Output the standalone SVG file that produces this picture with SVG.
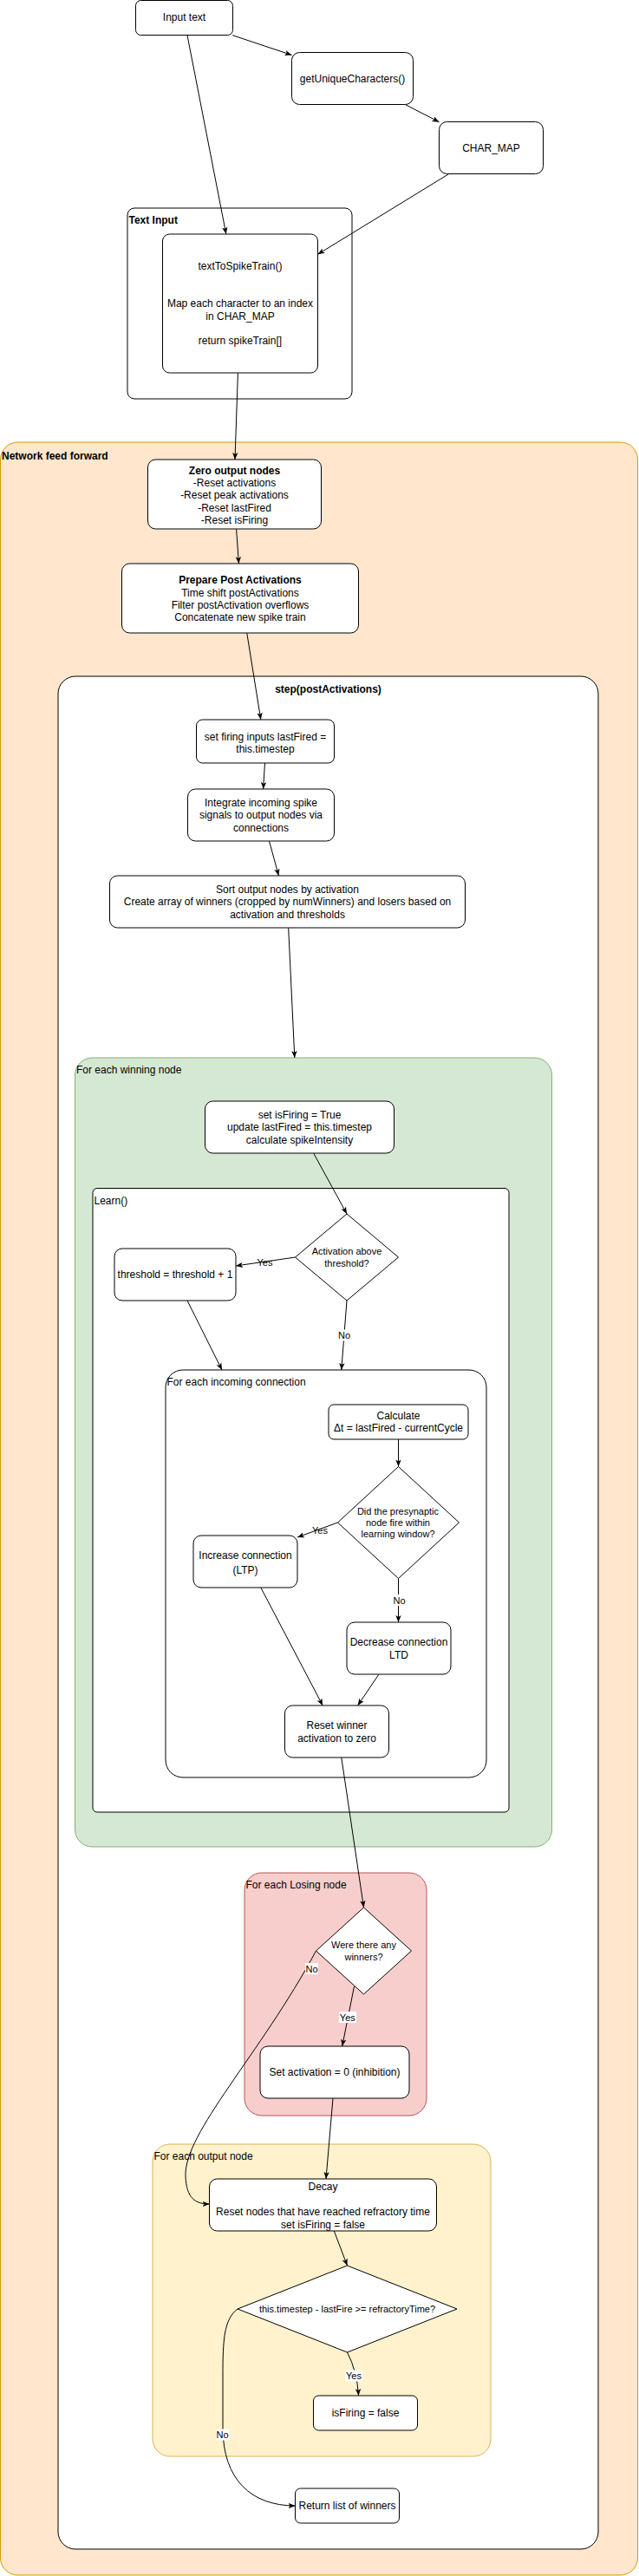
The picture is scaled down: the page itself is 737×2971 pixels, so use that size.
<svg xmlns="http://www.w3.org/2000/svg" width="737" height="2971" viewBox="0 0 737 2971">
<defs>
<marker id="arr" viewBox="0 0 10 10" refX="10" refY="5" markerWidth="8" markerHeight="8" orient="auto" markerUnits="userSpaceOnUse">
<path d="M0,1 L10,5 L0,9 L2.5,5 Z" fill="#000"/>
</marker>
<style>
.box{fill:#fff;stroke:#000;stroke-width:1}
.t{font-family:"Liberation Sans",Arial,Helvetica,sans-serif;font-size:12px;fill:#000;text-anchor:middle}
.b{font-weight:bold}
.l{text-anchor:start}
.s{font-size:11px}
.edge{fill:none;stroke:#000;stroke-width:1;marker-end:url(#arr)}
.lbg{fill:#fff}
</style>
</defs>
<rect x="0" y="0" width="737" height="2971" fill="#fff"/>

<g id="network-feed-forward">
<rect x="0.5" y="510" width="735" height="2460" rx="20" fill="#ffe6cc" stroke="#d79b00"/>
<text class="t b l" x="2" y="530">Network feed forward</text>
</g>
<g id="step">
<rect x="67" y="780" width="623" height="2160" rx="20" class="box"/>
<text class="t b" x="378.5" y="798.5">step(postActivations)</text>
</g>
<g id="for-each-winning">
<rect x="86.5" y="1220" width="550" height="910" rx="20" fill="#d5e8d4" stroke="#82b366"/>
<text class="t l" x="88" y="1237.5">For each winning node</text>
</g>
<g id="learn">
<rect x="107" y="1370.5" width="480" height="719.5" rx="5" class="box"/>
<text class="t l" x="108.5" y="1388.5">Learn()</text>
</g>
<g id="for-each-incoming">
<rect x="191" y="1580" width="370" height="470" rx="20" class="box"/>
<text class="t l" x="192.5" y="1598.2">For each incoming connection</text>
</g>
<g id="for-each-losing">
<rect x="282" y="2160" width="210" height="280" rx="20" fill="#f8cecc" stroke="#b85450"/>
<text class="t l" x="283.5" y="2178.2">For each Losing node</text>
</g>
<g id="for-each-output">
<rect x="176" y="2473" width="390" height="360" rx="20" fill="#fff2cc" stroke="#d6b656"/>
<text class="t l" x="177.5" y="2491.2">For each output node</text>
</g>
<g id="text-input">
<rect x="147" y="240" width="259" height="220" rx="8" fill="none" stroke="#000"/>
<text class="t b l" x="148.5" y="258.2">Text Input</text>
</g>

<g id="connectors">
<path class="edge" d="M268.3,40.7 L336.5,63.5"/>
<path class="edge" d="M467.6,120.7 L506.5,140.7"/>
<path class="edge" d="M216,40.7 L260.8,270"/>
<path class="edge" d="M517,201 L366.5,293.3"/>
<path class="edge" d="M274.4,430.3 L271,530"/>
<path class="edge" d="M272.6,610.3 L275.4,650"/>
<path class="edge" d="M284.8,730.3 L300.8,830"/>
<path class="edge" d="M305.5,880 L303.6,910"/>
<path class="edge" d="M310.6,970.3 L321.4,1010"/>
<path class="edge" d="M332.7,1070.3 L339.8,1220"/>
<path class="edge" d="M361.8,1330.3 L400,1400"/>
<path class="edge" d="M340.5,1450 L272,1460"/>
<text class="t s" x="305.5" y="1459.6">Yes</text>
<path class="edge" d="M216,1500 L256,1580"/>
<path class="edge" d="M400,1500 L393.8,1580"/>
<rect class="lbg" x="390" y="1533.5" width="15" height="13"/>
<text class="t s" x="397" y="1543.9">No</text>
<path class="edge" d="M459.5,1660 L459.5,1691.5"/>
<path class="edge" d="M389.5,1756 L343,1773"/>
<text class="t s" x="369" y="1768.9">Yes</text>
<path class="edge" d="M459.5,1820.5 L459.5,1871"/>
<rect class="lbg" x="453" y="1839" width="15" height="13"/>
<text class="t s" x="460.5" y="1849.6">No</text>
<path class="edge" d="M300.8,1831 L372.2,1967"/>
<path class="edge" d="M437,1931 L412.6,1967"/>
<path class="edge" d="M393.8,2027 L419.5,2200"/>
<path class="edge" d="M364.5,2250 C300,2370 212,2460 214,2510 C215,2535 225,2542 241.5,2542"/>
<rect class="lbg" x="352" y="2264" width="15" height="13"/>
<text class="t s" x="359.5" y="2274.6">No</text>
<path class="edge" d="M408.5,2291 L394.7,2360"/>
<rect class="lbg" x="391" y="2320" width="20" height="13"/>
<text class="t s" x="400.8" y="2330.6">Yes</text>
<path class="edge" d="M384,2420 L376,2513"/>
<path class="edge" d="M385.3,2573 L400.5,2613"/>
<path class="edge" d="M400.5,2713 Q412,2735 413.5,2763"/>
<rect class="lbg" x="398" y="2733.5" width="20" height="13"/>
<text class="t s" x="408" y="2743.9">Yes</text>
<path class="edge" d="M274,2663 C258,2675 257,2700 257,2740 L257,2800 C257,2860 290,2890 340.5,2890"/>
<rect class="lbg" x="249.5" y="2801.5" width="15" height="13"/>
<text class="t s" x="256.6" y="2812.2">No</text>
</g>

<g id="input-text">
<rect x="156.5" y="0.5" width="112" height="40" rx="6" class="box"/>
<text class="t" x="212.5" y="24.2">Input text</text>
</g>
<g id="get-unique-characters">
<rect x="336.5" y="60.5" width="140" height="60" rx="9" class="box"/>
<text class="t" x="406.5" y="94.7">getUniqueCharacters()</text>
</g>
<g id="char-map">
<rect x="506.5" y="140.5" width="120" height="60" rx="9" class="box"/>
<text class="t" x="566.5" y="174.7">CHAR_MAP</text>
</g>
<g id="text-to-spike-train">
<rect x="187.5" y="270" width="179" height="160" rx="8" class="box"/>
<text class="t" x="277" y="310.9">textToSpikeTrain()</text>
<text class="t" x="277" y="354.1">Map each character to an index</text>
<text class="t" x="277" y="368.5">in CHAR_MAP</text>
<text class="t" x="277" y="397.3">return spikeTrain[]</text>
</g>
<g id="zero-output-nodes">
<rect x="170.5" y="530" width="200" height="80" rx="9" class="box"/>
<text class="t b" x="270.5" y="546.5">Zero output nodes</text>
<text class="t" x="270.5" y="560.9">-Reset activations</text>
<text class="t" x="270.5" y="575.3">-Reset peak activations</text>
<text class="t" x="270.5" y="589.7">-Reset lastFired</text>
<text class="t" x="270.5" y="604.1">-Reset isFiring</text>
</g>
<g id="prepare-post-activations">
<rect x="140.5" y="650" width="273" height="80" rx="9" class="box"/>
<text class="t b" x="277" y="673.2">Prepare Post Activations</text>
<text class="t" x="277" y="687.6">Time shift postActivations</text>
<text class="t" x="277" y="702">Filter postActivation overflows</text>
<text class="t" x="277" y="716.4">Concatenate new spike train</text>
</g>
<g id="set-firing-inputs">
<rect x="226.5" y="830" width="159" height="50" rx="7" class="box"/>
<text class="t" x="306" y="853.5">set firing inputs lastFired =</text>
<text class="t" x="306" y="867.9">this.timestep</text>
</g>
<g id="integrate">
<rect x="216.5" y="910" width="169" height="60" rx="9" class="box"/>
<text class="t" x="301" y="929.9">Integrate incoming spike</text>
<text class="t" x="301" y="944.3">signals to output nodes via</text>
<text class="t" x="301" y="958.7">connections</text>
</g>
<g id="sort-output-nodes">
<rect x="126.5" y="1010" width="410" height="60" rx="9" class="box"/>
<text class="t" x="331.5" y="1029.9">Sort output nodes by activation</text>
<text class="t" x="331.5" y="1044.3">Create array of winners (cropped by numWinners) and losers based on</text>
<text class="t" x="331.5" y="1058.7">activation and thresholds</text>
</g>
<g id="set-is-firing">
<rect x="236.5" y="1270" width="218" height="60" rx="9" class="box"/>
<text class="t" x="345.5" y="1289.9">set isFiring = True</text>
<text class="t" x="345.5" y="1304.3">update lastFired = this.timestep</text>
<text class="t" x="345.5" y="1318.7">calculate spikeIntensity</text>
</g>
<g id="activation-above-threshold">
<polygon points="340.5,1450 400,1400 459.5,1450 400,1500" class="box"/>
<text class="t s" x="400" y="1447.2">Activation above</text>
<text class="t s" x="400" y="1461.2">threshold?</text>
</g>
<g id="threshold-increment">
<rect x="132" y="1440" width="140" height="60" rx="9" class="box"/>
<text class="t" x="202" y="1474.2">threshold = threshold + 1</text>
</g>
<g id="calculate-dt">
<rect x="379" y="1620" width="161" height="40" rx="6" class="box"/>
<text class="t" x="459.5" y="1636.9">Calculate</text>
<text class="t" x="459.5" y="1651.3">Δt = lastFired - currentCycle</text>
</g>
<g id="presynaptic-fire">
<polygon points="389.5,1756 459.5,1691.5 529.5,1756 459.5,1820.5" class="box"/>
<text class="t s" x="459" y="1747.2">Did the presynaptic</text>
<text class="t s" x="459" y="1760.4">node fire within</text>
<text class="t s" x="459" y="1773.4">learning window?</text>
</g>
<g id="increase-connection">
<rect x="223" y="1771" width="120" height="60" rx="9" class="box"/>
<text class="t" x="283" y="1797.9">Increase connection</text>
<text class="t" x="283" y="1814.9">(LTP)</text>
</g>
<g id="decrease-connection">
<rect x="400" y="1871" width="120" height="60" rx="9" class="box"/>
<text class="t" x="460" y="1898.2">Decrease connection</text>
<text class="t" x="460" y="1912.9">LTD</text>
</g>
<g id="reset-winner">
<rect x="328.5" y="1967" width="120" height="60" rx="9" class="box"/>
<text class="t" x="388.5" y="1994.2">Reset winner</text>
<text class="t" x="388.5" y="2009.2">activation to zero</text>
</g>
<g id="were-there-winners">
<polygon points="364.5,2250 419.5,2200 474.5,2250 419.5,2300" class="box"/>
<text class="t s" x="419.5" y="2247.2">Were there any</text>
<text class="t s" x="419.5" y="2261.2">winners?</text>
</g>
<g id="set-activation-zero">
<rect x="300" y="2360" width="172" height="60" rx="9" class="box"/>
<text class="t" x="386" y="2394.2">Set activation = 0 (inhibition)</text>
</g>
<g id="decay">
<rect x="241.5" y="2513" width="262" height="60" rx="9" class="box"/>
<text class="t" x="372.5" y="2526.2">Decay</text>
<text class="t" x="372.5" y="2555.2">Reset nodes that have reached refractory time</text>
<text class="t" x="372.5" y="2569.6">set isFiring = false</text>
</g>
<g id="refractory-check">
<polygon points="274,2663 400.5,2613 527,2663 400.5,2713" class="box"/>
<text class="t s" x="400.5" y="2667.2">this.timestep - lastFire &gt;= refractoryTime?</text>
</g>
<g id="is-firing-false">
<rect x="361.5" y="2763" width="120" height="40" rx="6" class="box"/>
<text class="t" x="421.5" y="2786.9">isFiring = false</text>
</g>
<g id="return-winners">
<rect x="340.5" y="2870" width="120" height="40" rx="6" class="box"/>
<text class="t" x="400.5" y="2893.5">Return list of winners</text>
</g>
</svg>
